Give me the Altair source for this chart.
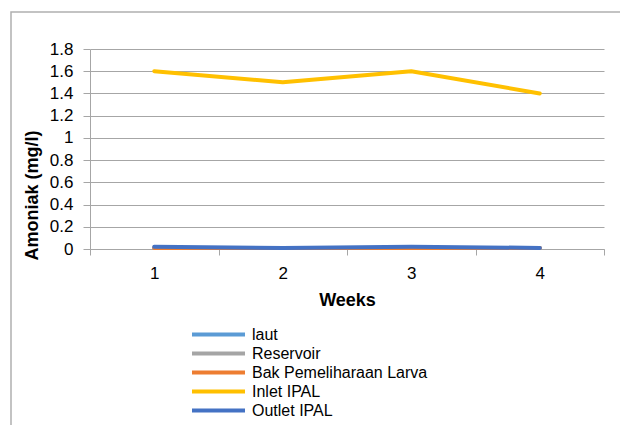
import altair as alt
import pandas as pd

# Weekly ammonia readings (mg/l) at each sampling point
weeks = [1, 2, 3, 4]
series_names = ["laut", "Reservoir", "Bak Pemeliharaan Larva", "Inlet IPAL", "Outlet IPAL"]
laut = [0.01, 0.01, 0.01, 0.01]
reservoir = [0.01, 0.01, 0.01, 0.01]
bak_larva = [0.01, 0.01, 0.01, 0.01]
inlet_ipal = [1.6, 1.5, 1.6, 1.4]
outlet_ipal = [0.02, 0.01, 0.02, 0.01]
series_colors = ["#5B9BD5", "#A5A5A5", "#ED7D31", "#FFC000", "#4472C4"]
series_widths = [4, 4, 4, 4, 5.5]
y_ticks = [0, 0.2, 0.4, 0.6, 0.8, 1.0, 1.2, 1.4, 1.6, 1.8]

values = [laut, reservoir, bak_larva, inlet_ipal, outlet_ipal]
rows = []
for name, vals in zip(series_names, values):
    for w, v in zip(weeks, vals):
        rows.append({"Week": str(w), "Series": name, "Amoniak": v})
df = pd.DataFrame(rows)

FONT = "Liberation Sans"
GRID = "#a6a6a6"

lines = alt.Chart(df).mark_line(strokeCap="round", strokeJoin="round").encode(
    x=alt.X(
        "Week:O",
        title="Weeks",
        scale=alt.Scale(paddingInner=0, paddingOuter=0),
        axis=alt.Axis(
            labelAngle=0,
            labelFontSize=17,
            labelColor="#000000",
            labelPadding=10,
            tickSize=6,
            tickBand="extent",
            tickColor=GRID,
            domainColor=GRID,
            grid=False,
            titleFontSize=18,
            titleFontWeight="bold",
            titleColor="#000000",
            titleY=51,
            titleBaseline="middle",
        ),
    ),
    y=alt.Y(
        "Amoniak:Q",
        title="Amoniak (mg/l)",
        scale=alt.Scale(domain=[0, 1.8], nice=False),
        axis=alt.Axis(
            values=y_ticks,
            format="~g",
            labelFontSize=17,
            labelColor="#000000",
            labelPadding=10,
            tickSize=7,
            tickColor=GRID,
            domainColor=GRID,
            gridColor=GRID,
            titleFontSize=18,
            titleFontWeight="bold",
            titleColor="#000000",
            titleX=-58,
            titleY=146,
            titleAngle=-90,
            titleBaseline="middle",
            titleAlign="center",
        ),
    ),
    color=alt.Color(
        "Series:N",
        scale=alt.Scale(domain=series_names, range=series_colors),
        sort=series_names,
        legend=alt.Legend(
            title=None,
            orient="none",
            legendX=100,
            legendY=276,
            symbolType="stroke",
            symbolSize=53 * 53,
            symbolStrokeWidth=4,
            clipHeight=19,
            rowPadding=0,
            padding=0,
            labelOffset=5,
            labelFontSize=16,
            labelColor="#000000",
            labelFont=FONT,
            labelLimit=400,
        ),
    ),
    strokeWidth=alt.StrokeWidth(
        "Series:N",
        scale=alt.Scale(domain=series_names, range=series_widths),
        sort=series_names,
        legend=None,
    ),
    order=alt.Order("Week:O"),
)

# outer frame of the chart area
frame = alt.Chart(alt.Data(values=[{}])).mark_rect(
    fill=None, stroke="#b0b0b0", strokeWidth=1.5
).encode(
    x=alt.value(-79), x2=alt.value(700), y=alt.value(-37), y2=alt.value(500)
)

chart = (
    alt.layer(frame, lines)
    .properties(
        width=514,
        height=200,
        padding={"left": 90, "top": 49, "right": 16, "bottom": 176},
        autosize=alt.AutoSizeParams(type="none"),
        background="#ffffff",
    )
    .configure(font=FONT)
    .configure_view(stroke=None)
)

chart.save("out.html", embed_options={"renderer": "svg", "actions": False})
